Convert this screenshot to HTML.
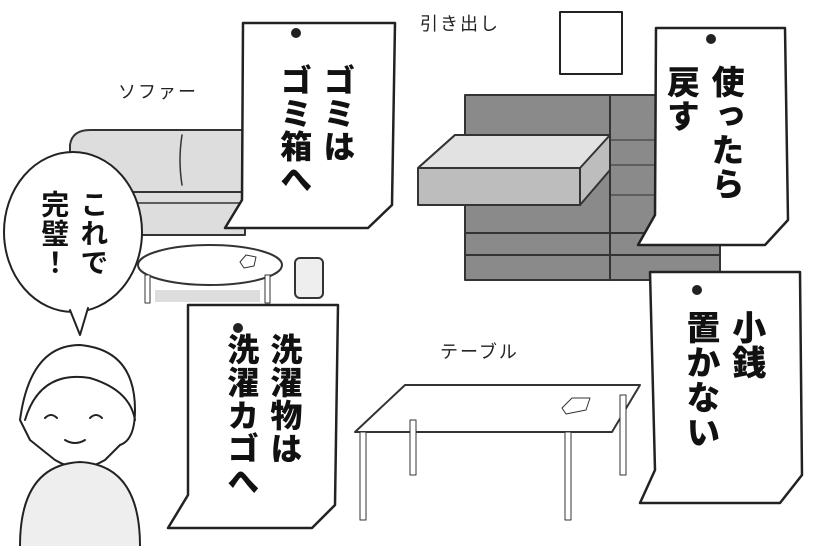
<!DOCTYPE html>
<html><head><meta charset="utf-8"><style>
body{margin:0;background:#fff}
#w{position:relative;width:817px;height:546px;overflow:hidden;background:#fff;font-family:"Liberation Sans","Noto Sans CJK JP",sans-serif}
.v{position:absolute;writing-mode:vertical-rl;font-weight:900;color:#111;line-height:1.35;letter-spacing:1px}
.l{position:absolute;font-size:18px;color:#222;letter-spacing:2px}
</style></head><body><div id="w">
<svg width="817" height="546" style="position:absolute;left:0;top:0" stroke-linecap="round" stroke-linejoin="round">
<path d="M70 235 L70 145 Q72 130 90 130 L245 130 L245 235 Z" fill="#ddd" stroke="#333" stroke-width="2"/>
<line x1="70" y1="192" x2="245" y2="192" stroke="#333" stroke-width="2"/>
<line x1="70" y1="203" x2="245" y2="203" stroke="#333" stroke-width="1.5"/>
<path d="M182 135 Q178 160 182 185" fill="none" stroke="#333" stroke-width="1.5"/>
<ellipse cx="210" cy="265" rx="72" ry="20" fill="#fff" stroke="#333" stroke-width="2"/>
<rect x="145" y="275" width="5" height="28" fill="#fff" stroke="#333"/>
<rect x="265" y="275" width="5" height="28" fill="#fff" stroke="#333"/>
<rect x="155" y="290" width="105" height="12" fill="#ddd"/>
<path d="M240 262 L246 255 L256 257 L254 266 L244 268 Z" fill="#fff" stroke="#333"/>
<rect x="295" y="258" width="28" height="40" rx="5" fill="#eee" stroke="#333" stroke-width="2"/>
<rect x="465" y="95" width="255" height="185" fill="#8a8a8a" stroke="#333" stroke-width="2"/>
<line x1="465" y1="233" x2="720" y2="233" stroke="#333" stroke-width="2"/>
<line x1="465" y1="255" x2="720" y2="255" stroke="#333" stroke-width="2"/>
<line x1="610" y1="95" x2="610" y2="280" stroke="#333" stroke-width="2"/>
<line x1="610" y1="140" x2="720" y2="140" stroke="#333"/>
<line x1="610" y1="165" x2="720" y2="165" stroke="#333"/>
<line x1="610" y1="195" x2="720" y2="195" stroke="#333"/>
<path d="M418 168 L455 135 L610 135 L610 170 L580 205 L418 205 Z" fill="#bdbdbd" stroke="#333" stroke-width="2"/>
<path d="M418 168 L455 135 L610 135 L580 168 Z" fill="#e2e2e2" stroke="#333" stroke-width="2"/>
<line x1="580" y1="168" x2="580" y2="205" stroke="#333" stroke-width="2"/>
<rect x="560" y="12" width="62" height="62" fill="none" stroke="#222" stroke-width="2"/>
<path d="M355 432 L405 385 L640 385 L612 432 Z" fill="#fff" stroke="#333" stroke-width="2"/>
<rect x="360" y="432" width="6" height="88" fill="#fff" stroke="#333"/>
<rect x="565" y="432" width="6" height="88" fill="#fff" stroke="#333"/>
<rect x="410" y="420" width="6" height="55" fill="#fff" stroke="#333"/>
<rect x="620" y="395" width="6" height="80" fill="#fff" stroke="#333"/>
<path d="M562 408 L572 398 L590 398 L586 410 L566 414 Z" fill="#fff" stroke="#333"/>
<ellipse cx="73" cy="232" rx="69" ry="80" fill="#fff" stroke="#222" stroke-width="2"/>
<path d="M70 310 L80 335 L88 308" fill="#fff" stroke="#222" stroke-width="2"/>
<path d="M20 420 Q30 345 80 345 Q135 350 135 410 Q135 440 120 445 L105 460 Q80 475 55 460 L30 440 Z" fill="#fff" stroke="#222" stroke-width="2"/>
<path d="M25 420 Q40 370 90 378 Q130 390 135 420" fill="none" stroke="#222" stroke-width="2"/>
<path d="M20 546 Q20 465 80 462 Q140 465 140 546" fill="#eee" stroke="#222" stroke-width="2"/>
<path d="M45 418 q6 -6 12 0 M90 418 q6 -6 12 0 M65 440 q10 6 20 0" fill="none" stroke="#222" stroke-width="2"/>
<g fill="#fff" stroke="#222" stroke-width="2.5">
<path d="M243 23 L395 23 L392 205 L368 228 L225 228 L242 200 Z"/>
<path d="M656 28 L785 28 L788 220 L765 245 L638 245 L655 215 Z"/>
<path d="M650 272 L800 272 L802 475 L780 503 L640 503 L655 470 Z"/>
<path d="M188 305 L338 305 L335 505 L312 528 L168 528 L188 495 Z"/>
</g>
<g fill="#222"><circle cx="296" cy="33" r="5"/><circle cx="711" cy="39" r="5"/><circle cx="697" cy="290" r="5"/><circle cx="238" cy="328" r="5"/></g>
</svg>
<div class="l" style="left:118px;top:78px">ソファー</div>
<div class="l" style="left:420px;top:10px">引き出し</div>
<div class="l" style="left:440px;top:338px">テーブル</div>
<div class="v" style="left:272px;top:64px;font-size:32px">ゴミは<br>ゴミ箱へ</div>
<div class="v" style="left:658px;top:65px;font-size:33px">使ったら<br>戻す</div>
<div class="v" style="left:676px;top:310px;font-size:34px">小銭<br>置かない</div>
<div class="v" style="left:219px;top:333px;font-size:32px">洗濯物は<br>洗濯カゴへ</div>
<div class="v" style="left:34px;top:190px;font-size:28px;font-weight:700;line-height:1.4">これで<br>完璧！</div>
</div></body></html>
